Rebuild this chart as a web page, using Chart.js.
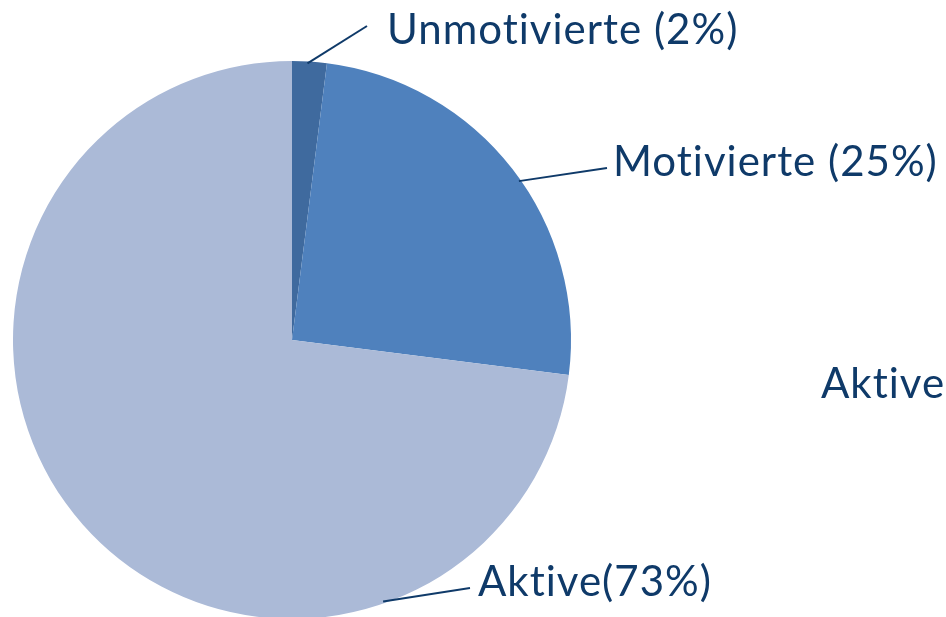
<!DOCTYPE html>
<html>
<head>
<meta charset="UTF-8" />
<script src="https://cdn.jsdelivr.net/npm/chart.js@4"></script>
<style>
  html, body { margin: 0; padding: 0; background: #ffffff; overflow: hidden; }
  #wrap { position: relative; width: 946px; height: 640px; }
</style>
</head>
<body>
<div id="wrap"><canvas id="pie"></canvas></div>
<script>
const categories = ["Unmotivierte", "Motivierte", "Aktive"];
const shares = [2, 25, 73];
const labelTexts = ["Unmotivierte (2%)", "Motivierte (25%)", "Aktive(73%)"];
const sliceColors = ["#3F6A9E", "#4F81BD", "#ABBAD7"];
const textColor = "#0F3A69";

// where each leader line leaves the pie (degrees clockwise from top) and where its label sits
const labelLayout = [
  { angle: 3.2, lineEnd: [367, 26], textX: 387, baseline: 44 },
  { angle: 55, lineEnd: [607, 168], textX: 613, baseline: 176 },
  { angle: 160.8, lineEnd: [470, 588], textX: 478, baseline: 596 },
];

const calloutPlugin = {
  id: "callouts",
  afterDraw(chart) {
    const ctx = chart.ctx;
    const arc = chart.getDatasetMeta(0).data[0];
    const cx = arc.x;
    const cy = arc.y;
    const r = arc.outerRadius;
    ctx.save();
    ctx.strokeStyle = textColor;
    ctx.lineWidth = 2;
    ctx.fillStyle = textColor;
    ctx.font = "42px Lato";
    ctx.letterSpacing = "1px";
    ctx.textBaseline = "alphabetic";
    ctx.textAlign = "left";
    labelLayout.forEach((pos, i) => {
      const a = (pos.angle * Math.PI) / 180;
      const sx = cx + (r - 2) * Math.sin(a);
      const sy = cy - (r - 2) * Math.cos(a);
      ctx.beginPath();
      ctx.moveTo(sx, sy);
      ctx.lineTo(pos.lineEnd[0], pos.lineEnd[1]);
      ctx.stroke();
      ctx.fillText(labelTexts[i], pos.textX, pos.baseline);
    });
    // stray legend text at the right
    ctx.fillText(categories[2], 821, 398);
    ctx.restore();
  },
};

new Chart(document.getElementById("pie"), {
  type: "pie",
  data: {
    labels: categories,
    datasets: [
      {
        data: shares,
        backgroundColor: sliceColors,
        borderWidth: 0,
      },
    ],
  },
  options: {
    responsive: true,
    maintainAspectRatio: false,
    animation: false,
    layout: {
      padding: { left: 13, right: 375, top: 61, bottom: 21 },
    },
    plugins: {
      legend: { display: false },
      tooltip: { enabled: false },
    },
  },
  plugins: [calloutPlugin],
});
</script>
</body>
</html>
